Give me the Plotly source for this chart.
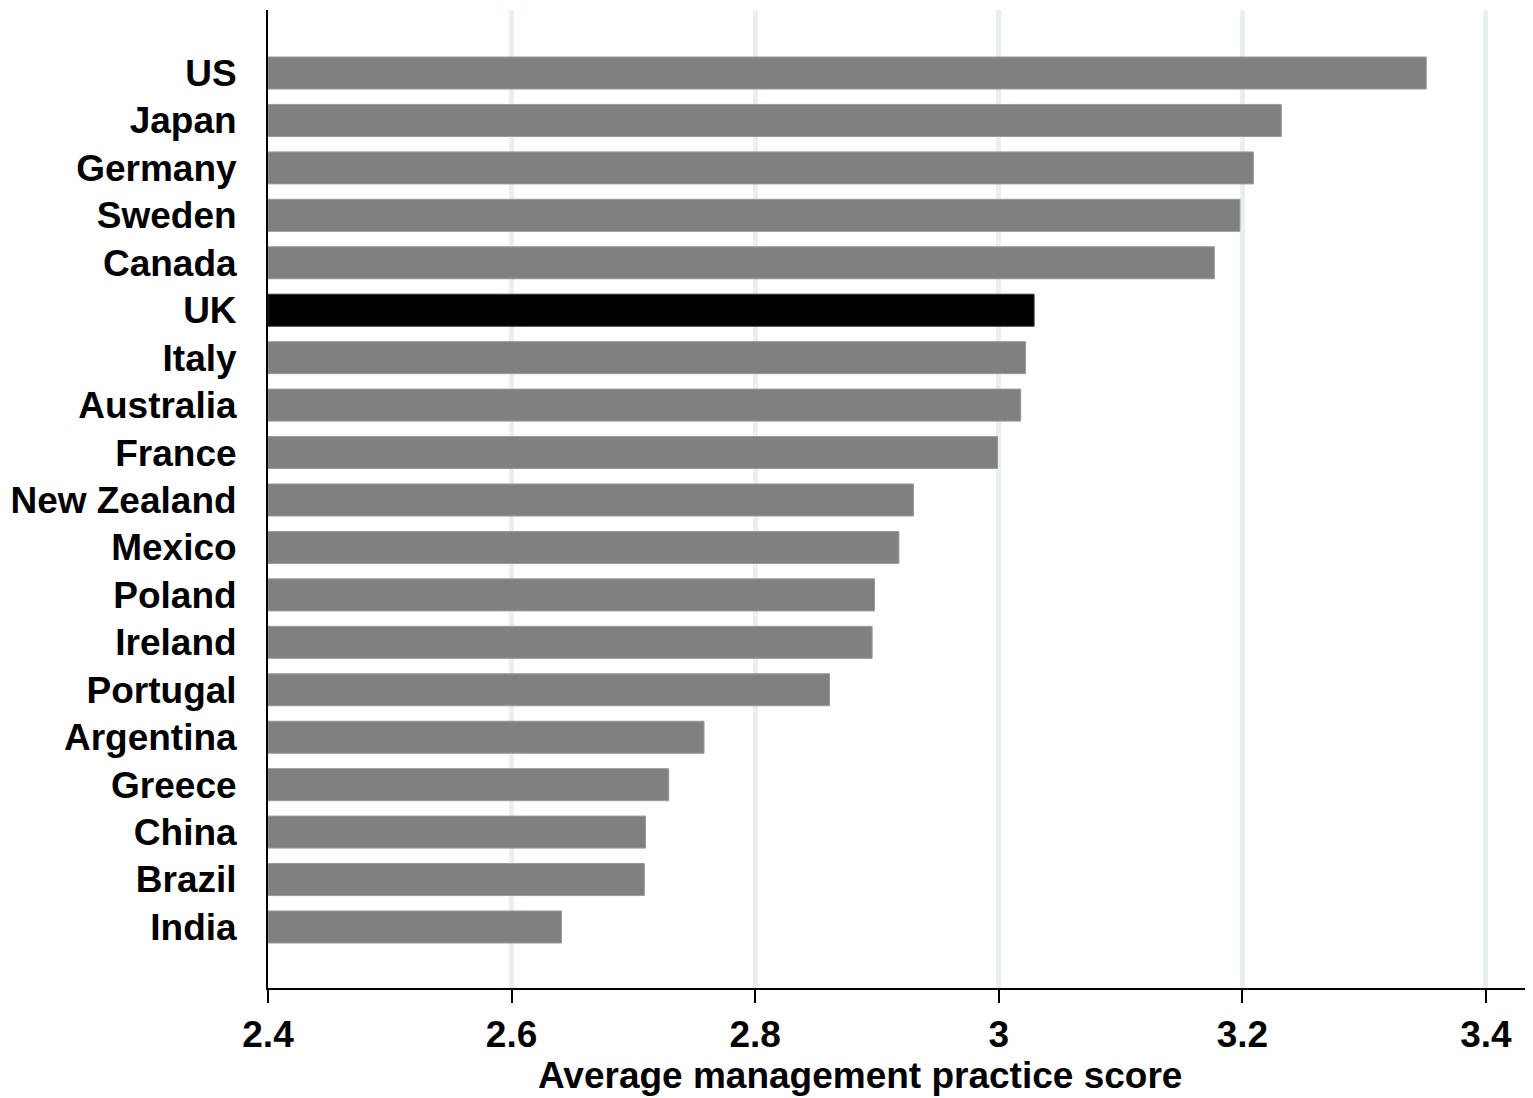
import plotly.graph_objects as go

countries = ["US", "Japan", "Germany", "Sweden", "Canada", "UK", "Italy", "Australia",
             "France", "New Zealand", "Mexico", "Poland", "Ireland", "Portugal",
             "Argentina", "Greece", "China", "Brazil", "India"]
scores = [3.351, 3.232, 3.209, 3.198, 3.177, 3.029, 3.022, 3.018, 2.999, 2.930,
          2.918, 2.898, 2.896, 2.861, 2.758, 2.729, 2.710, 2.709, 2.641]
highlight = "UK"
x_ticks = [2.4, 2.6, 2.8, 3.0, 3.2, 3.4]
x_ticklabels = ["2.4", "2.6", "2.8", "3", "3.2", "3.4"]
x_title = "Average management practice score"

base = 2.4
colors = ["#000000" if c == highlight else "#808080" for c in countries]
line_colors = ["#333333" if c == highlight else "#9a9a9a" for c in countries]

fig = go.Figure(go.Bar(
    y=countries,
    x=[s - base for s in scores],
    base=base,
    orientation="h",
    marker=dict(color=colors, line=dict(color=line_colors, width=1)),
    width=0.675,
    hoverinfo="skip",
))

font = "Liberation Sans, Arial, sans-serif"
fsize = 37
# page body has an 8px margin, so the figure is sized/offset to compensate
fig.update_layout(
    width=1525, height=1090,
    margin=dict(l=260, r=6, t=2, b=110),
    plot_bgcolor="white", paper_bgcolor="white",
    showlegend=False,
    font=dict(family=font, size=fsize, color="black", weight="bold"),
    xaxis=dict(
        range=[2.4, 3.4337],
        automargin=False,
        tickvals=x_ticks, ticktext=x_ticklabels,
        ticks="outside", ticklen=13, tickwidth=2, tickcolor="black",
        showline=True, linecolor="black", linewidth=2,
        showgrid=True, gridcolor="#e8f0f1", gridwidth=5,
        zeroline=False,
        tickfont=dict(family=font, size=fsize, color="black", weight="bold"),
    ),
    yaxis=dict(
        type="category",
        automargin=False,
        categoryorder="array", categoryarray=countries,
        range=[19.286, -1.328],
        showline=True, linecolor="black", linewidth=2,
        showgrid=False, ticks="", zeroline=False,
        ticklabelstandoff=22,
        tickfont=dict(family=font, size=fsize, color="black", weight="bold"),
    ),
    annotations=[dict(
        text=x_title, xref="paper", yref="paper",
        x=0.470, y=-0.089, xanchor="center", yanchor="middle",
        showarrow=False,
        font=dict(family=font, size=fsize, color="black", weight="bold"),
    )],
)

fig.write_html("out.html")
